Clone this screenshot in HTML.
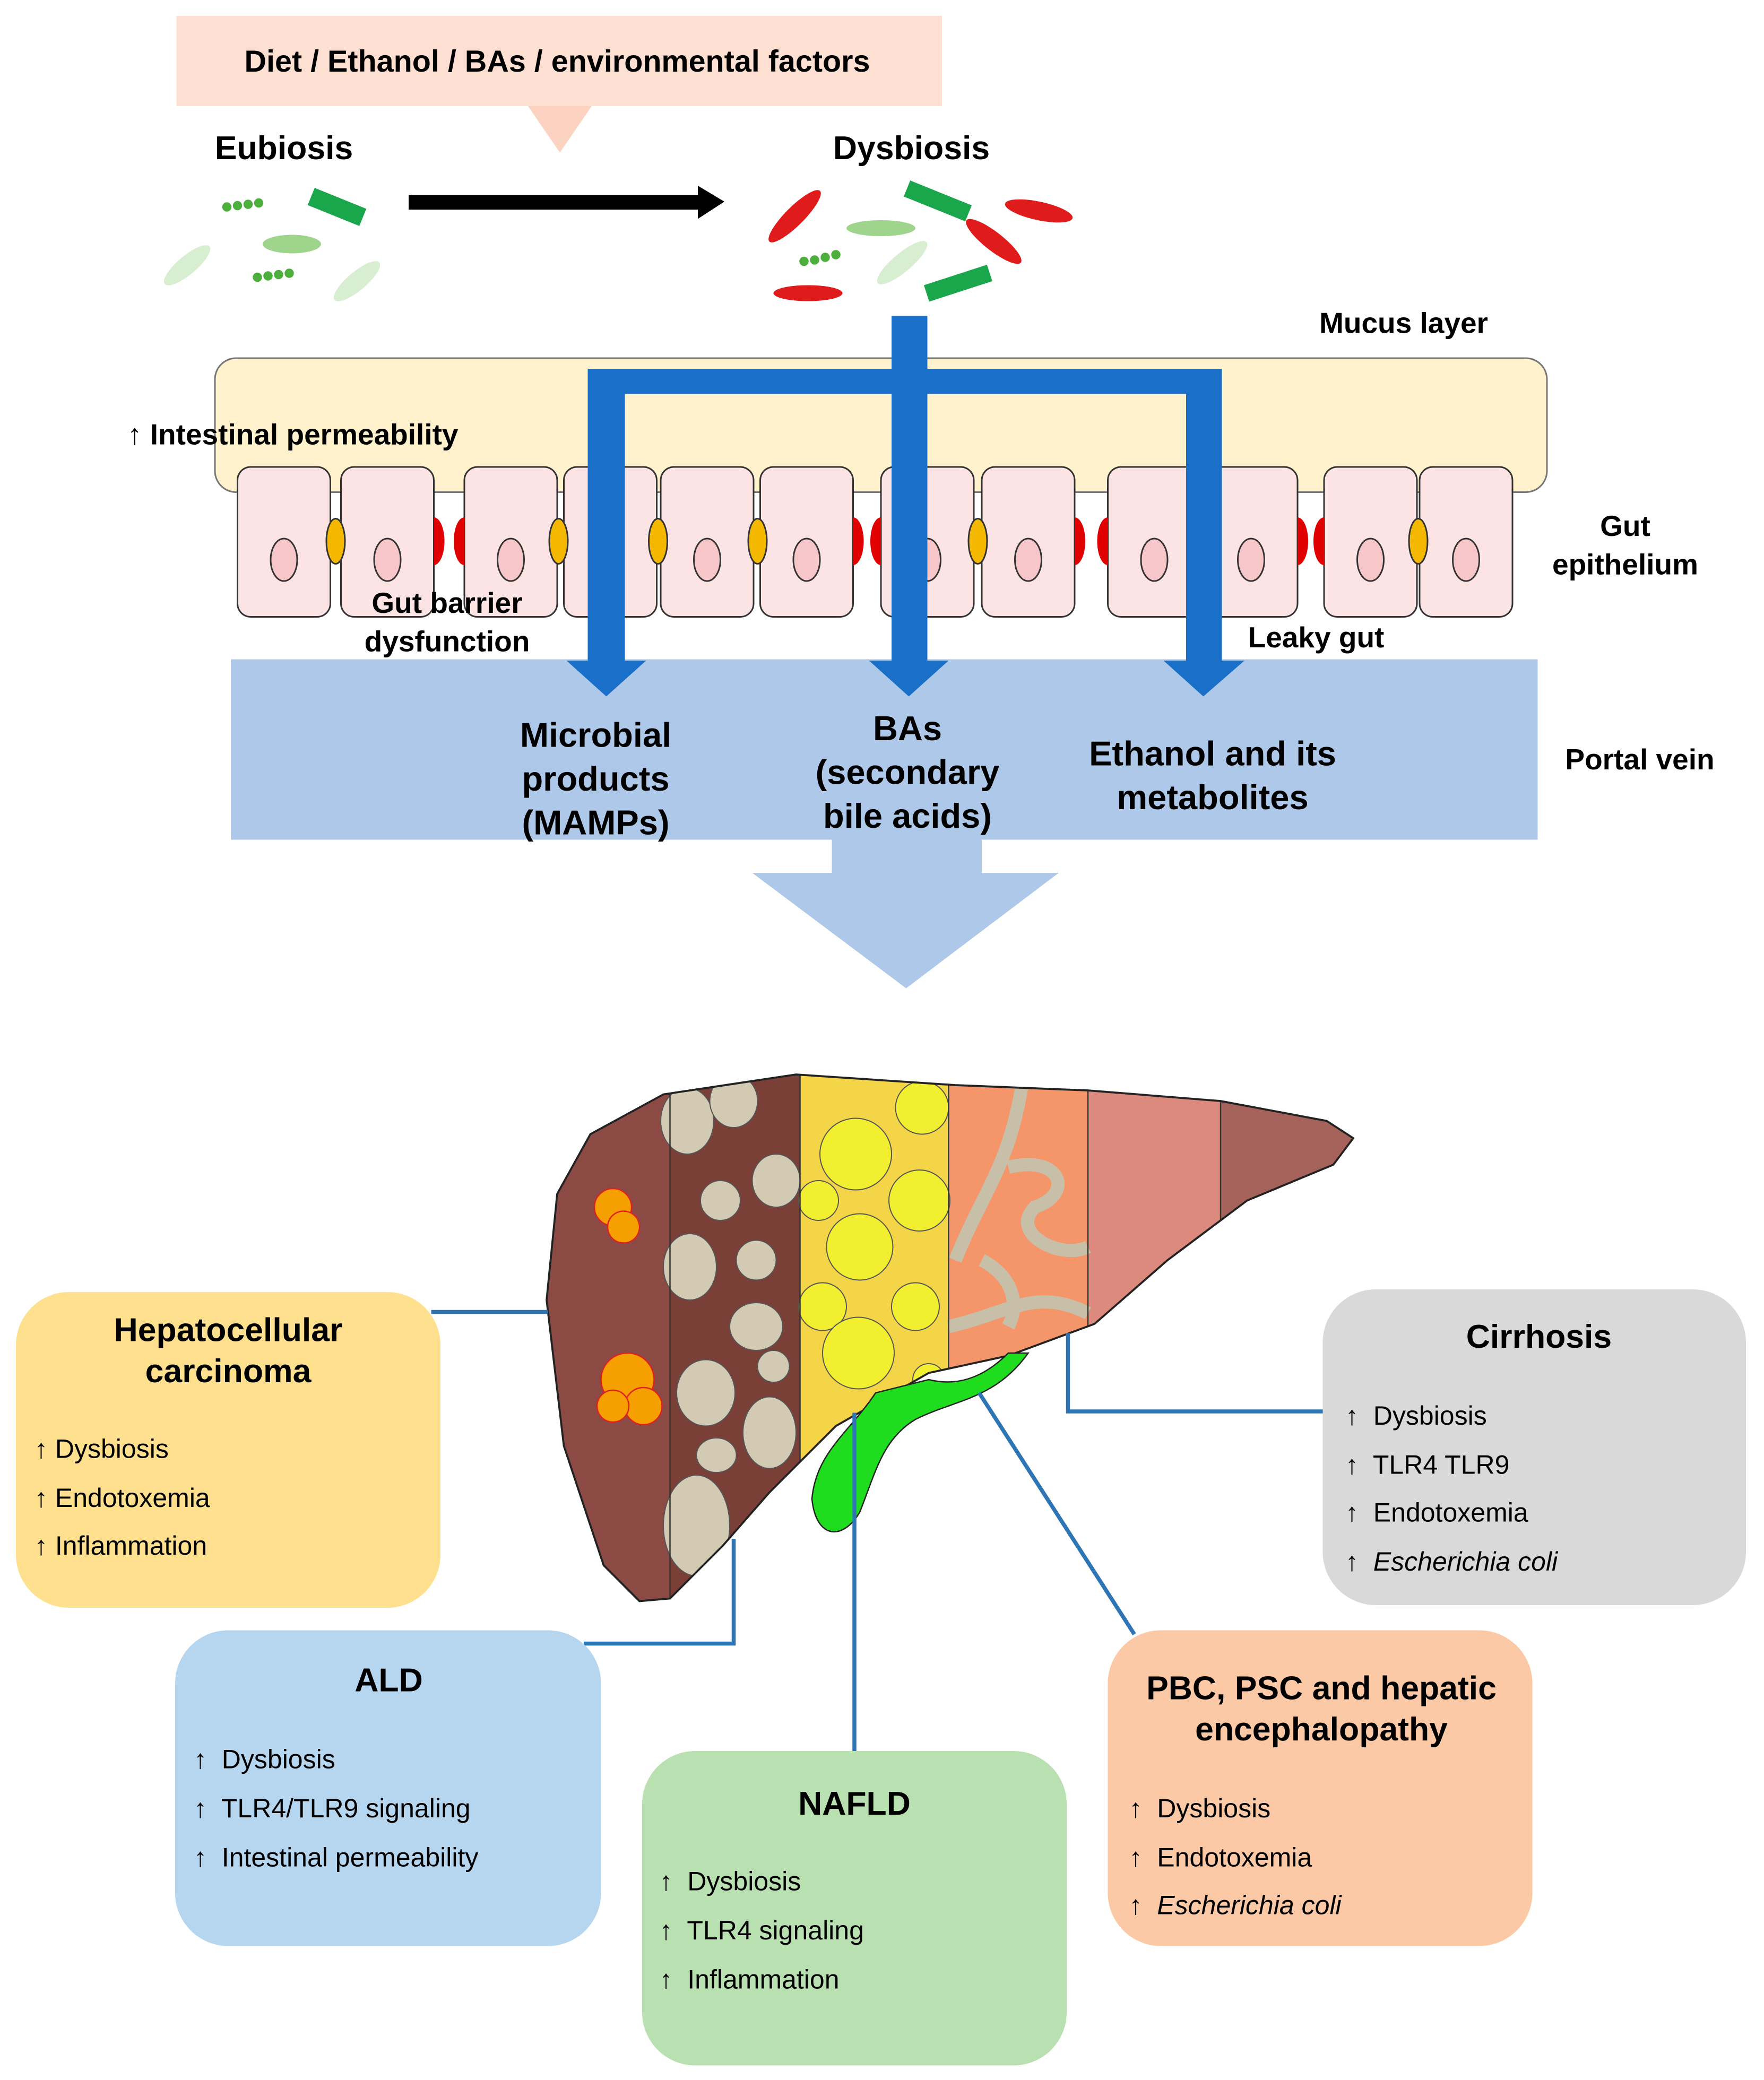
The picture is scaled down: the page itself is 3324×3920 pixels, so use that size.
<!DOCTYPE html>
<html><head><meta charset="utf-8"><style>
html,body{margin:0;padding:0;background:#fff}
svg{display:block}
text{font-family:"Liberation Sans","Noto Sans CJK KR",sans-serif}
.b{font-weight:bold}
</style></head><body>
<svg width="3324" height="3920" viewBox="0 0 1329.6 1568" xmlns="http://www.w3.org/2000/svg">
<rect width="1329.6" height="1568" fill="#fff"/>
<!-- top factor box -->
<rect x="133" y="12" width="577" height="68" fill="#fde0d2"/>
<polygon points="398,80 446,80 422,115" fill="#fcd3c0"/>
<text x="420" y="54" font-size="23" class="b" text-anchor="middle">Diet / Ethanol / BAs / environmental factors</text>
<text x="214" y="120" font-size="25" class="b" text-anchor="middle">Eubiosis</text>
<text x="687" y="120" font-size="25" class="b" text-anchor="middle">Dysbiosis</text>
<rect x="308" y="147" width="220" height="11" fill="#000"/>
<polygon points="526,140 546,152 526,165" fill="#000"/>
<!-- eubiosis bacteria -->
<g fill="#4caf3c">
<circle cx="171" cy="156" r="3.5"/><circle cx="179" cy="155" r="3.5"/><circle cx="187" cy="154" r="3.5"/><circle cx="195" cy="153" r="3.5"/>
<circle cx="194" cy="209" r="3.5"/><circle cx="202" cy="208" r="3.5"/><circle cx="210" cy="207" r="3.5"/><circle cx="218" cy="206" r="3.5"/>
<circle cx="606" cy="197" r="3.5"/><circle cx="614" cy="196" r="3.5"/><circle cx="622" cy="194" r="3.5"/><circle cx="630" cy="192" r="3.5"/>
</g>
<rect x="233" y="149" width="42" height="14" fill="#1aa64a" transform="rotate(22 254 156)"/>
<ellipse cx="220" cy="184" rx="22" ry="7" fill="#9fd48c"/>
<ellipse cx="141" cy="200" rx="22" ry="7" fill="#d8eed0" transform="rotate(-40 141 200)"/>
<ellipse cx="269" cy="212" rx="22" ry="7" fill="#d8eed0" transform="rotate(-40 269 212)"/>
<!-- dysbiosis bacteria -->
<ellipse cx="599" cy="163" rx="27" ry="7" fill="#e01b1b" transform="rotate(-45 599 163)"/>
<ellipse cx="783" cy="159" rx="26" ry="7" fill="#e01b1b" transform="rotate(12 783 159)"/>
<ellipse cx="749" cy="182" rx="26" ry="7" fill="#e01b1b" transform="rotate(38 749 182)"/>
<ellipse cx="609" cy="221" rx="26" ry="6" fill="#e01b1b"/>
<rect x="682" y="145" width="50" height="13" fill="#1aa64a" transform="rotate(22 707 151)"/>
<rect x="697" y="207" width="50" height="13" fill="#1aa64a" transform="rotate(-18 722 213)"/>
<ellipse cx="664" cy="172" rx="26" ry="6" fill="#9fd48c"/>
<ellipse cx="680" cy="198" rx="24" ry="7" fill="#d8eed0" transform="rotate(-40 680 198)"/>
<!-- mucus -->
<text x="1058" y="251" font-size="22" class="b" text-anchor="middle">Mucus layer</text>
<rect x="162" y="270" width="1004" height="101" rx="16" fill="#fff2cc" stroke="#777" stroke-width="1.2"/>
<text x="96" y="335" font-size="22" class="b">↑ Intestinal permeability</text>
<!-- cells -->
<g stroke="#333" stroke-width="1.2">
<rect x="179" y="352" width="70" height="113" rx="10" fill="#fde4e4"/>
<rect x="257" y="352" width="70" height="113" rx="10" fill="#fde4e4"/>
<rect x="350" y="352" width="70" height="113" rx="10" fill="#fde4e4"/>
<rect x="425" y="352" width="70" height="113" rx="10" fill="#fde4e4"/>
<rect x="498" y="352" width="70" height="113" rx="10" fill="#fde4e4"/>
<rect x="573" y="352" width="70" height="113" rx="10" fill="#fde4e4"/>
<rect x="664" y="352" width="70" height="113" rx="10" fill="#fde4e4"/>
<rect x="740" y="352" width="70" height="113" rx="10" fill="#fde4e4"/>
<rect x="835" y="352" width="70" height="113" rx="10" fill="#fde4e4"/>
<rect x="908" y="352" width="70" height="113" rx="10" fill="#fde4e4"/>
<rect x="998" y="352" width="70" height="113" rx="10" fill="#fde4e4"/>
<rect x="1070" y="352" width="70" height="113" rx="10" fill="#fde4e4"/>
<g fill="#f7c6c8">
<ellipse cx="214" cy="422" rx="10" ry="16"/><ellipse cx="292" cy="422" rx="10" ry="16"/><ellipse cx="385" cy="422" rx="10" ry="16"/>
<ellipse cx="460" cy="422" rx="10" ry="16"/><ellipse cx="533" cy="422" rx="10" ry="16"/><ellipse cx="608" cy="422" rx="10" ry="16"/>
<ellipse cx="699" cy="422" rx="10" ry="16"/><ellipse cx="775" cy="422" rx="10" ry="16"/><ellipse cx="870" cy="422" rx="10" ry="16"/>
<ellipse cx="943" cy="422" rx="10" ry="16"/><ellipse cx="1033" cy="422" rx="10" ry="16"/><ellipse cx="1105" cy="422" rx="10" ry="16"/>
</g>
<g fill="#f5b800">
<ellipse cx="253" cy="408" rx="7" ry="17"/><ellipse cx="421" cy="408" rx="7" ry="17"/><ellipse cx="496" cy="408" rx="7" ry="17"/>
<ellipse cx="571" cy="408" rx="7" ry="17"/><ellipse cx="737" cy="408" rx="7" ry="17"/><ellipse cx="1069" cy="408" rx="7" ry="17"/>
</g>
</g>
<g fill="#e00000">
<path d="M327,390 a8,18 0 0 1 0,36 z"/><path d="M350,390 a8,18 0 0 0 0,36 z"/>
<path d="M643,390 a8,18 0 0 1 0,36 z"/><path d="M664,390 a8,18 0 0 0 0,36 z"/>
<path d="M810,390 a8,18 0 0 1 0,36 z"/><path d="M835,390 a8,18 0 0 0 0,36 z"/>
<path d="M978,390 a8,18 0 0 1 0,36 z"/><path d="M998,390 a8,18 0 0 0 0,36 z"/>
</g>
<text x="1225" y="404" font-size="22" class="b" text-anchor="middle">Gut</text>
<text x="1225" y="433" font-size="22" class="b" text-anchor="middle">epithelium</text>
<text x="337" y="462" font-size="22" class="b" text-anchor="middle">Gut barrier</text>
<text x="337" y="491" font-size="22" class="b" text-anchor="middle">dysfunction</text>
<text x="992" y="488" font-size="22" class="b" text-anchor="middle">Leaky gut</text>
<!-- portal vein -->
<rect x="174" y="497" width="985" height="136" fill="#adc8e8"/>
<polygon points="627,633 740,633 740,658 798,658 683,745 567,658 627,658" fill="#adc8e8"/>
<!-- blue arrows -->
<g fill="#1a6fc9">
<rect x="672" y="238" width="27" height="262"/>
<rect x="443" y="278" width="478" height="19"/>
<rect x="443" y="278" width="28" height="222"/>
<rect x="894" y="278" width="27" height="222"/>
<polygon points="427,498 487,498 457,525"/>
<polygon points="655,498 715,498 685,525"/>
<polygon points="877,498 938,498 907,525"/>
</g>
<g font-size="26" class="b" text-anchor="middle">
<text x="449" y="563">Microbial</text><text x="449" y="596">products</text><text x="449" y="629">(MAMPs)</text>
<text x="684" y="558">BAs</text><text x="684" y="591">(secondary</text><text x="684" y="624">bile acids)</text>
<text x="914" y="577">Ethanol and its</text><text x="914" y="610">metabolites</text>
</g>
<text x="1236" y="580" font-size="22" class="b" text-anchor="middle">Portal vein</text>
<!-- liver -->
<defs><clipPath id="lv"><path d="M505,1205 L482,1207 455,1180 425,1090 412,980 420,900 445,855 500,825 600,810 720,818 820,822 920,830 1000,845 1020,858 1005,878 940,905 880,950 825,998 760,1022 700,1035 630,1075 580,1125 545,1165 Z"/></clipPath></defs>
<g clip-path="url(#lv)">
<rect x="400" y="800" width="105" height="420" fill="#8b4b44"/>
<rect x="505" y="800" width="98" height="420" fill="#7a3f37"/>
<rect x="603" y="800" width="112" height="420" fill="#f5d548"/>
<rect x="715" y="800" width="105" height="420" fill="#f5956a"/>
<rect x="820" y="800" width="100" height="420" fill="#db8a7d"/>
<rect x="920" y="800" width="110" height="420" fill="#a4625a"/>
<g fill="#d2cab2" stroke="#555" stroke-width="0.8">
<ellipse cx="518" cy="845" rx="20" ry="25"/><ellipse cx="585" cy="890" rx="18" ry="20"/><ellipse cx="543" cy="905" rx="15" ry="15"/>
<ellipse cx="520" cy="955" rx="20" ry="25"/><ellipse cx="570" cy="950" rx="15" ry="15"/><ellipse cx="570" cy="1000" rx="20" ry="18"/>
<ellipse cx="532" cy="1050" rx="22" ry="25"/><ellipse cx="580" cy="1080" rx="20" ry="27"/><ellipse cx="540" cy="1097" rx="15" ry="13"/>
<ellipse cx="525" cy="1150" rx="25" ry="38"/><ellipse cx="583" cy="1030" rx="12" ry="12"/><ellipse cx="553" cy="830" rx="18" ry="20"/>
</g>
<g fill="#f2ef30" stroke="#555" stroke-width="0.8">
<circle cx="645" cy="870" r="27"/><circle cx="695" cy="835" r="20"/><circle cx="617" cy="905" r="15"/><circle cx="693" cy="905" r="23"/>
<circle cx="648" cy="940" r="25"/><circle cx="620" cy="985" r="18"/><circle cx="690" cy="985" r="18"/><circle cx="647" cy="1020" r="27"/><circle cx="700" cy="1040" r="12"/>
</g>
<g fill="none" stroke="#c8bfa8" stroke-width="10">
<path d="M770,820 C760,880 740,900 720,950"/><path d="M760,880 C800,870 810,900 780,910 C760,930 800,950 820,940"/>
<path d="M715,1000 C760,990 780,970 820,990"/><path d="M760,1000 C770,980 760,960 740,950"/>
</g>
<g fill="#f5a000" stroke="#e02020" stroke-width="1">
<circle cx="462" cy="910" r="14"/><circle cx="470" cy="925" r="12"/><circle cx="473" cy="1040" r="20"/><circle cx="485" cy="1060" r="14"/><circle cx="462" cy="1060" r="12"/>
</g>
<g stroke="#333" stroke-width="1" fill="none">
<line x1="505" y1="800" x2="505" y2="1220"/><line x1="603" y1="800" x2="603" y2="1220"/><line x1="715" y1="800" x2="715" y2="1220"/><line x1="820" y1="800" x2="820" y2="1220"/><line x1="920" y1="800" x2="920" y2="1220"/>
</g>
</g>
<path d="M505,1205 L482,1207 455,1180 425,1090 412,980 420,900 445,855 500,825 600,810 720,818 820,822 920,830 1000,845 1020,858 1005,878 940,905 880,950 825,998 760,1022 700,1035 630,1075 580,1125 545,1165 Z" fill="none" stroke="#222" stroke-width="1.5"/>
<path d="M660,1050 C640,1080 615,1095 612,1130 C615,1160 635,1162 648,1140 C660,1110 665,1085 690,1070 C720,1055 750,1055 775,1020 L760,1020 C740,1040 720,1045 700,1040 Z" fill="#1fdc1f" stroke="#222" stroke-width="1"/>
<!-- connectors -->
<g stroke="#2e75b6" stroke-width="3" fill="none">
<line x1="325" y1="989" x2="413" y2="989"/>
<polyline points="440,1239 553,1239 553,1160"/>
<line x1="644" y1="1320" x2="644" y2="1065"/>
<line x1="855" y1="1232" x2="738" y2="1050"/>
<polyline points="997,1064 805,1064 805,1005"/>
</g>
<!-- boxes -->
<rect x="12" y="974" width="320" height="238" rx="40" fill="#fee08e"/>
<rect x="132" y="1229" width="321" height="238" rx="40" fill="#b5d6ee"/>
<rect x="484" y="1320" width="320" height="237" rx="40" fill="#b9e0b1"/>
<rect x="835" y="1229" width="320" height="238" rx="40" fill="#fbc9a5"/>
<rect x="997" y="972" width="319" height="238" rx="40" fill="#d9d9d9"/>
<g font-size="25" class="b" text-anchor="middle">
<text x="172" y="1011">Hepatocellular</text><text x="172" y="1042">carcinoma</text>
<text x="293" y="1275">ALD</text>
<text x="644" y="1368">NAFLD</text>
<text x="996" y="1281">PBC, PSC and hepatic</text><text x="996" y="1312">encephalopathy</text>
<text x="1160" y="1016">Cirrhosis</text>
</g>
<g font-size="20">
<text x="26" y="1099">↑ Dysbiosis</text><text x="26" y="1136">↑ Endotoxemia</text><text x="26" y="1172">↑ Inflammation</text>
<text x="146" y="1333">↑&#160; Dysbiosis</text><text x="146" y="1370">↑&#160; TLR4/TLR9 signaling</text><text x="146" y="1407">↑&#160; Intestinal permeability</text>
<text x="497" y="1425">↑&#160; Dysbiosis</text><text x="497" y="1462">↑&#160; TLR4 signaling</text><text x="497" y="1499">↑&#160; Inflammation</text>
<text x="851" y="1370">↑&#160; Dysbiosis</text><text x="851" y="1407">↑&#160; Endotoxemia</text><text x="851" y="1443">↑&#160; <tspan font-style="italic">Escherichia coli</tspan></text>
<text x="1014" y="1074">↑&#160; Dysbiosis</text><text x="1014" y="1111">↑&#160; TLR4 TLR9</text><text x="1014" y="1147">↑&#160; Endotoxemia</text><text x="1014" y="1184">↑&#160; <tspan font-style="italic">Escherichia coli</tspan></text>
</g>
</svg>
</body></html>
